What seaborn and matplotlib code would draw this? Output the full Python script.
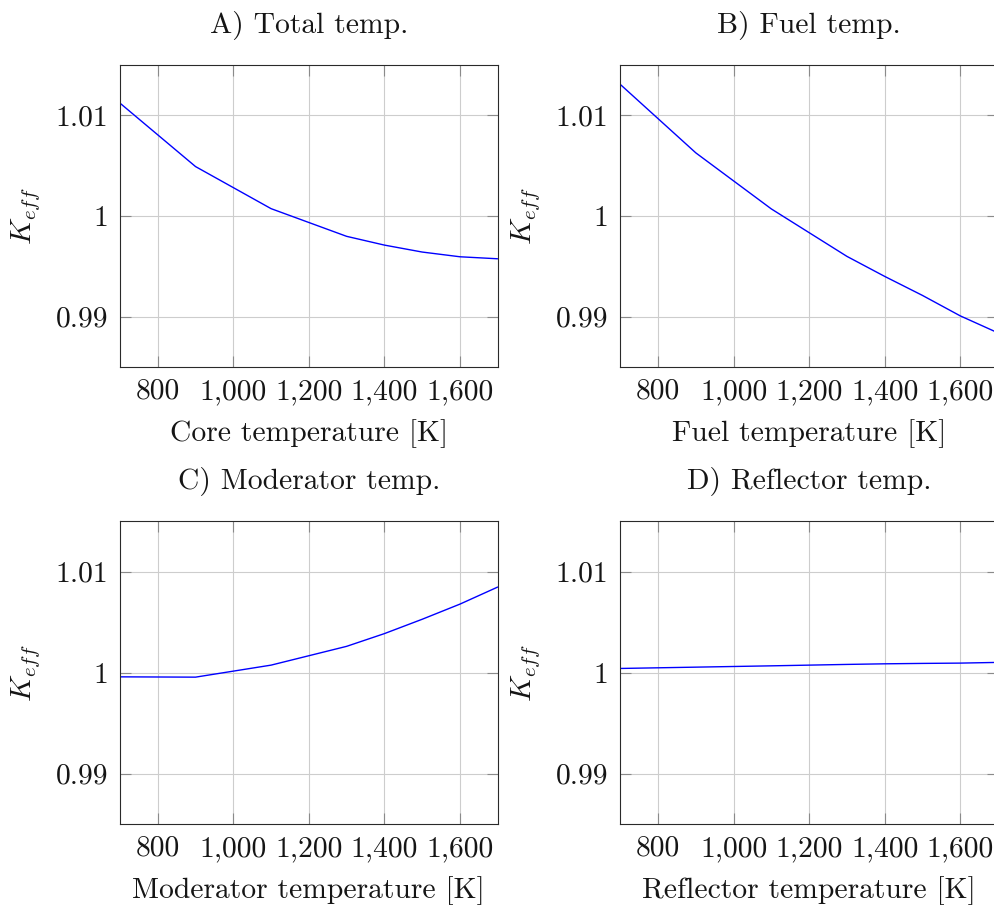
import numpy as np
import pandas as pd
import matplotlib
matplotlib.use("Agg")
import matplotlib.pyplot as plt
from matplotlib.ticker import FuncFormatter
import seaborn as sns

# ---- data ----
temps = [700, 900, 1100, 1300, 1400, 1500, 1600, 1700]
k_total = [1.01121, 1.00491, 1.00073, 0.99798, 0.99711, 0.99642, 0.99595, 0.99575]
k_fuel = [1.01307, 1.00627, 1.00070, 0.99599, 0.99400, 0.99211, 0.99008, 0.98839]
k_moderator = [0.99957, 0.99954, 1.00073, 1.00259, 1.00385, 1.00527, 1.00677, 1.00846]
k_reflector = [1.00040, 1.00053, 1.00066, 1.00080, 1.00086, 1.00090, 1.00093, 1.00100]

titles = ["A) Total temp.", "B) Fuel temp.", "C) Moderator temp.", "D) Reflector temp."]
xlabels = ["Core temperature [K]", "Fuel temperature [K]",
           "Moderator temperature [K]", "Reflector temperature [K]"]
ylabel = r"$K_{eff}$"
xticks = [800, 1000, 1200, 1400, 1600]
yticks = [0.99, 1.0, 1.01]
series = [k_total, k_fuel, k_moderator, k_reflector]

FS = 21.3

sns.set_style("ticks")
plt.rcParams["font.family"] = ["cmr10", "DejaVu Serif"]
plt.rcParams["mathtext.fontset"] = "cm"
plt.rcParams["axes.formatter.use_mathtext"] = True
plt.rcParams["font.size"] = FS

fig = plt.figure(figsize=(9.95, 9.05), dpi=100)
W, H = 995.0, 905.0
positions = [
    (120, 65, 377.7, 302),
    (620.3, 65, 377.7, 302),
    (120, 521, 377.7, 303),
    (620.3, 521, 377.7, 303),
]

for i in range(4):
    x0, y0, w, h = positions[i]
    ax = fig.add_axes([x0 / W, 1 - (y0 + h) / H, w / W, h / H])
    df = pd.DataFrame({"T": temps, "k": series[i]})
    sns.lineplot(data=df, x="T", y="k", ax=ax, color="#0000ff", linewidth=1.0,
                 sort=True, legend=False)
    ax.set_xlim(700, 1700)
    ax.set_ylim(0.985, 1.015)
    ax.set_xticks(xticks)
    ax.set_yticks(yticks)
    ax.xaxis.set_major_formatter(FuncFormatter(lambda v, p: f"{v:,.0f}"))
    ax.yaxis.set_major_formatter(FuncFormatter(lambda v, p: f"{v:g}"))
    ax.grid(True, color="#cdcdcd", linewidth=0.8)
    ax.set_axisbelow(True)
    ax.tick_params(direction="in", top=True, right=True, length=8, width=0.8,
                   color="#8a8a8a", pad=8.4, labelsize=FS, labelcolor="#151515")
    for sp in ax.spines.values():
        sp.set_color("#2a2a2a")
        sp.set_linewidth(0.8)
    ax.set_title(titles[i], fontsize=FS, pad=24, color="#151515")
    ax.set_xlabel(xlabels[i], fontsize=FS, labelpad=10, color="#151515")
    ax.set_ylabel(ylabel, fontsize=FS, labelpad=10, color="#151515")

fig.savefig("out.png", dpi=100)
